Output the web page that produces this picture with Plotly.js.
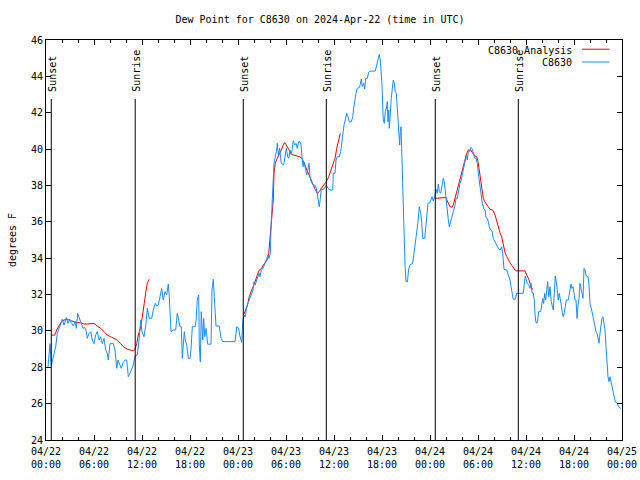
<!DOCTYPE html>
<html>
<head>
<meta charset="utf-8">
<script src="https://cdn.plot.ly/plotly-3.0.1.min.js"></script>
<style>html,body{margin:0;padding:0;background:#fff}#chart{width:640px;height:480px}</style>
</head>
<body>
<div id="chart"></div>
<script>
// ---- data (hours after 2024-04-22 00:00 UTC) ----
const obsHours = [0.25,0.5,0.66,0.91,1.21,1.41,1.75,2.04,2.25,2.54,2.75,2.96,3.16,3.41,3.63,3.79,3.96,4.16,4.41,4.63,4.84,5.04,5.16,5.38,5.59,5.79,6.0,6.21,6.41,6.63,6.84,7.04,7.25,7.46,7.66,7.79,8.0,8.41,8.63,8.84,9.0,9.21,9.41,9.63,9.88,10.09,10.29,10.5,10.71,10.91,11.13,11.41,11.63,11.84,12.0,12.25,12.5,12.66,12.91,13.21,13.41,13.66,13.84,14.04,14.25,14.46,14.66,14.88,15.09,15.29,15.41,15.5,15.63,15.91,16.21,16.41,16.59,16.75,16.91,17.04,17.16,17.29,17.41,17.59,17.79,18.0,18.13,18.29,18.63,18.75,18.91,19.09,19.16,19.29,19.41,19.5,19.59,19.71,19.84,20.0,20.21,20.63,20.75,20.91,21.04,21.25,21.66,21.88,22.09,23.63,23.84,24.09,24.21,24.34,24.46,24.59,24.75,24.91,25.09,25.25,25.46,25.66,25.88,26.0,26.16,26.34,26.5,26.63,26.75,26.91,27.13,27.34,27.54,27.75,27.88,28.04,28.13,28.25,28.38,28.5,28.66,28.84,28.91,29.04,29.21,29.41,29.71,29.88,30.04,30.21,30.34,30.5,30.66,30.79,30.91,31.09,31.25,31.41,31.59,31.75,31.88,32.0,32.13,32.25,32.41,32.59,32.75,32.88,33.0,33.16,33.38,33.59,33.79,33.91,34.04,34.16,34.29,34.41,34.63,34.84,35.04,35.25,35.5,35.84,35.91,36.13,36.25,36.41,36.66,36.84,36.96,37.09,37.25,37.41,37.59,37.75,37.91,38.16,38.34,38.46,38.59,38.75,38.91,39.16,39.29,39.41,39.54,39.71,39.84,39.96,40.16,40.34,40.5,41.16,41.34,41.5,41.66,41.79,41.88,42.0,42.09,42.16,42.29,42.41,42.59,42.66,42.75,42.84,42.91,43.04,43.16,43.29,43.41,43.54,43.66,43.79,43.91,44.04,44.13,44.21,44.29,44.38,44.46,44.59,44.75,44.88,45.0,45.19,45.31,45.5,45.84,46.0,46.19,46.35,46.5,46.66,46.84,46.96,47.09,47.34,47.46,47.59,47.75,48.0,48.13,48.25,48.41,48.59,48.75,48.91,49.04,49.16,49.34,49.5,49.66,49.79,49.91,50.04,50.16,50.29,50.41,50.54,50.71,50.91,51.09,51.25,51.41,51.59,51.75,51.91,52.09,52.25,52.41,52.54,52.66,52.79,52.91,53.04,53.16,53.29,53.41,53.59,53.75,53.91,54.09,54.25,54.38,54.54,54.71,54.88,55.0,55.16,55.29,55.41,55.59,55.75,55.91,56.13,56.34,56.54,56.75,56.96,57.09,57.25,57.59,57.79,58.0,58.13,58.25,58.41,58.66,58.84,59.66,59.79,59.91,60.04,60.16,60.34,60.5,60.63,60.75,60.91,61.04,61.13,61.25,61.41,61.59,61.84,61.96,62.09,62.21,62.34,62.46,62.59,62.71,62.84,63.0,63.16,63.29,63.41,63.54,63.66,63.79,63.91,64.04,64.16,64.29,64.41,64.54,64.66,64.79,64.91,65.04,65.29,65.46,65.63,65.75,65.88,66.0,66.13,66.25,66.38,66.5,66.63,66.75,66.88,67.0,67.13,67.25,67.38,67.5,67.63,67.75,67.88,68.0,68.13,68.25,68.38,68.5,68.63,68.75,68.88,69.0,69.13,69.25,69.38,69.5,69.63,69.75,69.88,70.0,70.13,70.25,70.38,70.5,70.63,70.75,70.88,71.0,71.16,71.41,71.59,71.84];
const obsDewF = [28.03,29.3,28.1,28.58,29.13,29.86,30.32,30.64,30.32,30.73,30.41,30.64,30.45,30.27,30.5,30.14,30.96,30.68,30.41,30.14,30.2,29.96,29.59,29.86,29.96,29.5,29.3,29.77,29.96,29.5,29.68,29.3,29.59,28.95,28.77,28.4,29.3,29.3,28.95,27.94,28.4,28.12,27.94,28.26,28.4,28.4,27.48,27.67,27.9,28.12,28.62,28.67,29.5,30.6,29.96,29.68,30.41,31.24,30.69,30.69,31.15,31.52,31.38,31.43,31.88,32.34,31.7,32.16,31.98,32.58,31.88,30.6,29.96,30.05,30.05,30.97,30.6,30.23,30.23,28.49,29.22,29.96,29.5,29.22,28.49,28.49,29.0,30.23,30.23,30.5,31.7,31.98,29.22,28.3,31.06,30.05,29.5,30.69,29.68,30.14,29.27,29.27,32.25,32.84,31.52,30.27,30.27,29.59,29.41,29.41,30.23,30.14,29.77,29.55,29.36,30.5,30.87,30.78,31.33,31.52,31.79,32.07,32.25,32.71,32.53,32.8,32.98,33.17,32.98,33.35,33.44,33.72,33.9,34.17,33.99,34.26,35.73,36.65,37.93,39.22,39.58,39.95,40.32,39.68,40.04,39.22,39.13,39.58,40.04,39.58,39.49,39.95,39.68,40.04,40.46,40.22,40.32,40.04,40.41,40.41,40.22,39.58,39.03,39.3,38.85,38.57,38.94,39.22,38.48,38.21,38.02,38.02,37.84,37.47,37.2,36.83,37.29,37.84,37.75,37.93,38.02,37.84,37.75,37.75,38.67,38.67,39.4,39.58,39.58,39.86,40.32,40.87,41.32,41.6,41.97,41.78,41.5,41.5,41.78,42.24,42.7,43.07,43.34,43.38,43.56,43.86,43.44,43.62,43.3,43.89,43.89,44.22,44.29,44.29,44.62,44.95,45.21,44.9,44.35,43.52,42.33,41.6,41.42,42.06,42.33,42.61,41.5,42.15,41.14,42.24,42.79,43.34,43.8,43.62,43.16,43.07,42.33,41.5,40.68,40.22,40.96,41.23,40.04,37.5,35.3,33.62,32.71,32.71,33.35,33.64,33.72,34.27,34.72,35.3,36.0,36.83,36.46,36.0,35.09,35.09,35.64,36.47,37.02,37.06,37.29,37.38,37.15,37.38,37.79,37.57,38.08,37.66,37.57,37.97,38.39,38.21,37.66,37.11,36.37,36.1,35.73,35.91,36.24,36.56,36.83,37.29,37.29,37.75,38.12,38.3,38.76,39.22,39.4,39.67,39.4,39.86,39.86,39.99,40.1,39.99,39.77,39.5,39.5,39.22,38.48,37.84,37.38,37.02,36.74,36.65,36.24,36.19,36.0,35.73,35.55,35.5,35.09,34.9,34.72,34.54,34.45,34.63,34.27,33.39,33.35,33.07,32.8,32.43,32.07,31.74,31.74,32.07,32.07,32.62,33.02,32.8,32.62,32.52,32.34,32.62,32.1,32.1,31.7,30.87,30.45,30.45,31.06,31.06,31.33,31.79,31.51,32.07,31.7,32.43,32.71,31.88,32.43,31.6,31.42,31.15,32.07,33.02,32.71,32.25,31.7,32.07,31.79,31.42,31.0,30.78,31.0,31.42,31.7,31.7,32.25,32.58,32.34,32.43,32.07,31.7,31.7,30.69,31.42,31.79,32.62,32.34,31.88,31.79,33.44,33.35,33.07,32.98,32.98,32.52,31.52,31.33,31.06,30.78,30.5,30.32,29.96,29.87,29.59,29.32,29.87,30.5,30.69,30.78,30.5,30.05,29.13,28.12,27.48,27.2,27.48,27.2,26.93,26.75,26.47,26.1,26.01,25.83,25.74];

// analysis series; null separates the three analysis runs
const anaHours = [0.66,1.09,1.34,1.63,1.91,2.25,2.66,3.09,3.5,3.91,4.34,4.75,5.16,5.59,6.0,6.41,6.84,7.25,7.66,8.09,8.5,8.91,9.34,9.75,10.16,10.59,10.91,11.13,11.34,11.54,11.84,12.04,12.25,12.46,12.66,12.91,
  18.0,
  24.62,24.75,25.16,25.41,25.71,26.0,26.34,26.66,26.96,27.16,27.5,27.71,27.84,28.0,28.16,28.29,28.41,28.5,28.66,28.91,29.16,29.41,29.66,29.84,30.04,30.25,30.46,30.66,30.88,31.29,31.71,32.0,32.34,32.66,32.96,33.25,33.59,33.91,34.16,34.41,34.75,35.04,35.34,35.66,35.91,36.13,36.34,36.54,36.79,
  42.0,
  48.63,50.0,50.16,50.34,50.5,50.75,50.91,51.13,51.34,51.54,51.75,51.96,52.16,52.38,52.59,52.79,53.09,53.34,53.63,53.84,54.0,54.16,54.34,54.5,54.66,54.84,55.09,55.29,55.5,55.88,56.13,56.34,56.54,56.75,56.96,57.16,57.38,57.59,57.79,58.0,58.34,58.63,58.84,59.88,60.09,60.34,60.59,60.75,60.91];
const anaDewF = [29.77,29.77,30.05,30.32,30.5,30.6,30.64,30.56,30.5,30.46,30.45,30.38,30.38,30.41,30.41,30.27,30.14,29.96,29.77,29.68,29.59,29.5,29.3,29.1,29.0,28.95,28.9,28.99,29.3,29.77,30.23,30.78,31.52,32.07,32.62,32.84,
  null,
  30.9,30.93,31.37,31.88,32.25,32.53,32.98,33.35,33.44,33.62,33.81,33.99,34.26,35.0,35.73,36.37,37.2,38.67,39.22,39.49,39.68,39.95,40.22,40.36,40.22,40.04,39.86,39.73,39.68,39.62,39.58,39.49,39.13,38.85,38.48,38.12,37.84,37.57,37.66,37.84,38.02,38.21,38.48,38.85,39.12,39.49,40.04,40.41,40.87,
  null,
  37.29,37.34,37.15,37.0,36.83,36.8,36.93,37.29,37.66,38.02,38.3,38.67,39.03,39.4,39.77,39.95,39.95,39.77,39.62,39.58,39.31,38.85,38.3,37.75,37.29,37.11,36.98,36.83,36.69,36.63,36.37,36.0,35.73,35.4,35.18,34.7,34.3,34.09,33.9,33.75,33.53,33.35,33.3,33.3,33.07,32.85,32.52,32.3,32.3];

const sunHours  = [0.66, 11.15, 24.66, 35.04, 48.66, 59.04];
const sunLabels = ["Sunset","Sunrise","Sunset","Sunrise","Sunset","Sunrise"];

const tickHours = [0,6,12,18,24,30,36,42,48,54,60,66,72];
const tickLabels = ["04/22<br>00:00","04/22<br>06:00","04/22<br>12:00","04/22<br>18:00","04/23<br>00:00","04/23<br>06:00","04/23<br>12:00","04/23<br>18:00","04/24<br>00:00","04/24<br>06:00","04/24<br>12:00","04/24<br>18:00","04/25<br>00:00"];
const yTicks = [24,26,28,30,32,34,36,38,40,42,44,46];

const seriesNames = ["C8630 Analysis", "C8630"];
const chartTitle = "Dew Point for C8630 on 2024-Apr-22 (time in UTC)";

// ---- helpers ----
const BASE = Date.UTC(2024, 3, 22, 0, 0, 0);
function toDate(h) {
  if (h === null) return null;
  return new Date(BASE + Math.round(h * 3600000)).toISOString().slice(0, 19).replace('T', ' ');
}

const FONT = "DejaVu Sans Mono, Liberation Mono, monospace";
const RED = "#ff0000";
const BLUE = "#1a8cff";

const traces = [
  {
    x: anaHours.map(toDate), y: anaDewF, type: 'scatter', mode: 'lines',
    line: {color: RED, width: 1}, connectgaps: false, name: seriesNames[0], showlegend: false
  },
  {
    x: obsHours.map(toDate), y: obsDewF, type: 'scatter', mode: 'lines',
    line: {color: BLUE, width: 1}, name: seriesNames[1], showlegend: false
  }
];

const shapes = [];
const annotations = [];
sunHours.forEach((h, i) => {
  shapes.push({type: 'line', xref: 'x', yref: 'paper', x0: toDate(h), x1: toDate(h), y0: 0, y1: 0.8525,
    line: {color: '#000', width: 1}});
  annotations.push({xref: 'x', yref: 'paper', x: toDate(h), y: 0.866, text: sunLabels[i],
    textangle: -90, showarrow: false, xanchor: 'center', yanchor: 'bottom', xshift: 1,
    font: {family: FONT, size: 10, color: '#000'}});
});

// legend (gnuplot style: text right-aligned, then sample line)
const legRows = [0.975, 0.943];
const legColors = [RED, BLUE];
seriesNames.forEach((n, i) => {
  annotations.push({xref: 'paper', yref: 'paper', x: 0.9167, y: legRows[i], text: n, showarrow: false,
    xanchor: 'right', yanchor: 'middle', font: {family: FONT, size: 10, color: '#000'}});
  shapes.push({type: 'line', xref: 'paper', yref: 'paper', x0: 0.9306, x1: 0.9783, y0: legRows[i] + 0.002, y1: legRows[i] + 0.002,
    line: {color: legColors[i], width: 1}});
});

const layout = {
  width: 640, height: 480,
  margin: {l: 46, r: 18, t: 40, b: 40, pad: 0},
  paper_bgcolor: '#fff', plot_bgcolor: '#fff',
  font: {family: FONT, size: 10, color: '#000'},
  title: {text: chartTitle, x: 0.5, xanchor: 'center', y: 0.96, yanchor: 'middle', font: {family: FONT, size: 10, color: '#000'}},
  showlegend: false,
  hovermode: false,
  xaxis: {
    type: 'date', range: [toDate(0), toDate(72)], autorange: false,
    tickmode: 'array', tickvals: tickHours.map(toDate), ticktext: tickLabels,
    ticks: 'inside', ticklen: 5, tickwidth: 1, tickcolor: '#000', ticklabelstandoff: 2,
    minor: {dtick: 2 * 3600000, ticks: 'inside', ticklen: 3, tickcolor: '#000', showgrid: false},
    showline: true, linecolor: '#000', linewidth: 1, mirror: 'ticks',
    showgrid: false, zeroline: false, tickfont: {family: FONT, size: 10, color: '#000'}
  },
  yaxis: {
    range: [24, 46], autorange: false,
    tickmode: 'array', tickvals: yTicks, ticktext: yTicks.map(String),
    ticks: 'inside', ticklen: 5, tickwidth: 1, tickcolor: '#000',
    showline: true, linecolor: '#000', linewidth: 1, mirror: 'ticks',
    showgrid: false, zeroline: false, tickfont: {family: FONT, size: 10, color: '#000'},
    title: {text: 'degrees F', standoff: 12, font: {family: FONT, size: 10, color: '#000'}}
  },
  shapes: shapes,
  annotations: annotations
};

Plotly.newPlot('chart', traces, layout, {staticPlot: true, displayModeBar: false});
</script>
</body>
</html>
